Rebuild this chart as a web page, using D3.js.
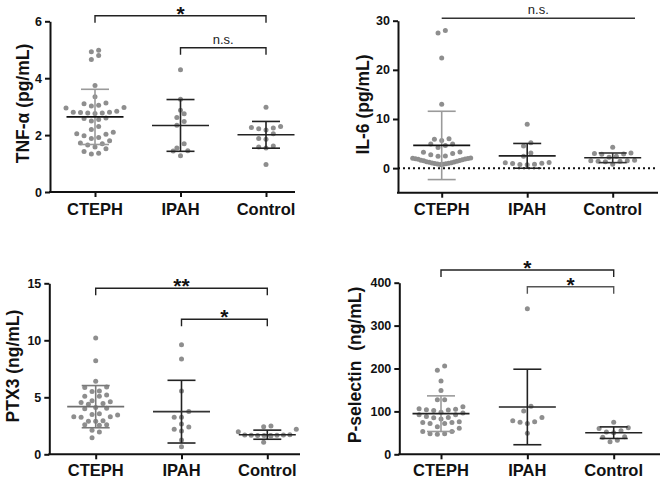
<!DOCTYPE html>
<html><head><meta charset="utf-8">
<script src="https://cdn.jsdelivr.net/npm/d3@7/dist/d3.min.js"></script>
<style>
html,body{margin:0;padding:0;background:#fff;}
svg{display:block;font-family:"Liberation Sans",Arial,sans-serif;}
</style></head>
<body>
<svg id="chart" width="661" height="481"></svg>
<script>
// ---------------- DATA ----------------
const groups = ["CTEPH", "IPAH", "Control"];

// TNF-α (pg/mL)
const tnfCTEPH = [4.98,4.93,4.80,4.66,3.74,3.35,3.13,3.10,3.05,3.02,2.97,2.95,2.84,2.80,2.80,2.79,2.78,2.78,2.76,2.60,2.58,2.55,2.50,2.30,2.20,2.10,2.05,2.03,1.98,1.92,1.88,1.80,1.72,1.70,1.65,1.58,1.52,1.42,1.36,1.34];
const tnfIPAH = [4.30,3.26,2.87,2.75,2.62,2.48,2.35,1.70,1.55,1.45,1.44,1.27];
const tnfControl = [2.98,2.30,2.27,2.25,2.22,2.18,2.05,1.88,1.85,1.62,1.58,1.55,0.97];
const tnfMean = [2.64, 2.34, 2.01];
const tnfSD = [0.97, 0.91, 0.47];
const tnfTicks = [0, 2, 4, 6];

// IL-6 (pg/mL)
const il6CTEPH = [28.0,27.5,22.4,13.0,6.0,5.9,5.6,4.9,4.9,4.6,4.2,3.3,3.25,3.0,2.7,2.45,2.4,
  2.05,2.0,1.95,1.9,1.85,1.8,1.7,1.6,1.55,1.5,1.4,1.3,1.25,1.2,1.1,1.05,1.0,0.95,0.9,0.85,0.8,0.75];
const il6IPAH = [8.95,5.15,4.5,3.1,2.4,1.15,1.1,1.0,0.95,0.8,0.75,0.7];
const il6Control = [4.25,3.1,3.0,2.9,2.8,2.4,2.2,1.6,1.5,1.5,1.4,1.4,1.3,0.8];
const il6Mean = [4.62, 2.5, 2.1];
const il6SD = [6.95, 2.52, 0.98];
const il6Ticks = [0, 10, 20, 30];

// PTX3 (ng/mL)
const ptxCTEPH = [10.2,8.2,6.4,5.9,5.85,5.55,5.5,5.2,5.1,5.1,4.7,4.6,4.55,4.45,4.4,4.1,4.05,4.0,3.55,3.5,3.45,3.3,3.3,3.25,2.95,2.9,2.9,2.6,2.6,2.55,2.1,1.95,1.45];
const ptxIPAH = [9.6,8.35,5.55,3.75,3.25,3.25,2.65,2.4,2.2,2.05,1.25,0.67];
const ptxControl = [2.48,2.42,2.2,1.98,1.72,1.70,1.70,1.68,1.68,1.66,1.66,1.64,1.62,1.05];
const ptxMean = [4.18, 3.74, 1.72];
const ptxSD = [1.85, 2.75, 0.40];
const ptxTicks = [0, 5, 10, 15];

// P-selectin (ng/mL)
const pselCTEPH = [206,196,171,149,127,127,111,106,105,104,103,102,98,96,92,92,88,86,85,82,76,74,74,72,72,64,61,53,53,48,48,47];
const pselIPAH = [339,112,101,86,78,76,75,72,49];
const pselControl = [75,62,60,55,52,50,41,40,33,29];
const pselMean = [94.7, 110.3, 50.4];
const pselSD = [41.5, 88, 13.5];
const pselTicks = [0, 100, 200, 300, 400];

// significance annotations: [fromGroup, toGroup, label]
const tnfSig = [[0, 2, "*"], [1, 2, "n.s."]];
const il6Sig = [[0, 2, "n.s."]];
const ptxSig = [[0, 2, "**"], [1, 2, "*"]];
const pselSig = [[0, 2, "*"], [1, 2, "*"]];

// ---------------- LAYOUT / STYLE ----------------
const panels = [
  {title:"TNF-\u03b1 (pg/mL)", vals:[tnfCTEPH,tnfIPAH,tnfControl], mean:tnfMean, sd:tnfSD, ticks:tnfTicks,
   domain:[0,6], yr:[192,21.3], ax:50, axEnd:295, cx:[95,266], titleX:23, titleY:103.5, labY:215,
   sig:tnfSig, brY:[15.7,47.7], drop:[7,7], brCol:["#222","#222"], zeroLine:false,
   meanCol:["#111","#222","#222"], errCol:["#9a9a9a","#222","#222"]},
  {title:"IL-6 (pg/mL)", vals:[il6CTEPH,il6IPAH,il6Control], mean:il6Mean, sd:il6SD, ticks:il6Ticks,
   domain:[-5,30], yr:[192.7,20.7], ax:398, axEnd:658, cx:[441.7,612.7], titleX:363, titleY:104.5, labY:215,
   sig:il6Sig, brY:[18.3], drop:[0], brEnd:[635], brCol:["#333"], zeroLine:true,
   meanCol:["#111","#222","#222"], errCol:["#9a9a9a","#222","#333"]},
  {title:"PTX3 (ng/mL)", vals:[ptxCTEPH,ptxIPAH,ptxControl], mean:ptxMean, sd:ptxSD, ticks:ptxTicks,
   domain:[0,15], yr:[454.3,283.3], ax:49.3, axEnd:300, cx:[95.7,267.3], titleX:13, titleY:366, labY:476,
   sig:ptxSig, brY:[288.3,319.3], drop:[7,7], brCol:["#222","#222"], zeroLine:false,
   meanCol:["#707070","#333","#222"], errCol:["#7a7a7a","#222","#222"]},
  {title:"P-selectin\u00a0\u00a0(ng/mL)", vals:[pselCTEPH,pselIPAH,pselControl], mean:pselMean, sd:pselSD, ticks:pselTicks,
   domain:[0,400], yr:[454.3,282.7], ax:399.3, axEnd:660, cx:[441,613.7], titleX:355, titleY:365, labY:476,
   sig:pselSig, brY:[270,286.7], drop:[7,7], brCol:["#222","#555"], zeroLine:false,
   meanCol:["#222","#222","#222"], errCol:["#9a9a9a","#222","#222"]}
];

const svg = d3.select("#chart");
const dotColor = "#8e8e8e";
const R = 2.5;

function swarm(vals, y, cx, binH, step, maxHalf) {
  const pts = vals.map(v => ({v, y: y(v)})).sort((a, b) => a.v - b.v);
  const out = [];
  let i = 0;
  while (i < pts.length) {
    const y0 = pts[i].y, bin = [];
    while (i < pts.length && y0 - pts[i].y < binH) { bin.push(pts[i]); i++; }
    const n = bin.length;
    const s = n > 1 ? Math.min(step, 2 * maxHalf / (n - 1)) : 0;
    const slots = [];
    for (let k = 0; k < n; k++) slots.push((k - (n - 1) / 2) * s);
    slots.sort((a, b) => Math.abs(a) - Math.abs(b) || a - b);
    bin.forEach((p, k) => out.push({v: p.v, y: p.y, x: cx + slots[k]}));
  }
  return out;
}

panels.forEach(p => {
  const g = svg.append("g");
  const y = d3.scaleLinear().domain(p.domain).range(p.yr);
  const x = d3.scalePoint().domain(groups).range(p.cx);

  // zero dotted line
  if (p.zeroLine) {
    g.append("line").attr("x1", p.ax).attr("x2", p.axEnd).attr("y1", y(0)).attr("y2", y(0))
      .attr("stroke", "#111").attr("stroke-width", 2).attr("stroke-dasharray", "2,3");
  }

  // dots
  groups.forEach((grp, gi) => {
    const pts = swarm(p.vals[gi], y, x(grp), 6.5, 7.3, 29);
    g.selectAll(null).data(pts).enter().append("circle")
      .attr("cx", d => d.x).attr("cy", d => d.y).attr("r", R).attr("fill", dotColor);
  });

  // mean ± SD
  groups.forEach((grp, gi) => {
    const cx = x(grp), m = p.mean[gi], s = p.sd[gi];
    const ec = p.errCol[gi];
    g.append("line").attr("x1", cx).attr("x2", cx).attr("y1", y(m + s)).attr("y2", y(m - s))
      .attr("stroke", ec).attr("stroke-width", 1.6);
    [m + s, m - s].forEach(v => {
      g.append("line").attr("x1", cx - 14).attr("x2", cx + 14).attr("y1", y(v)).attr("y2", y(v))
        .attr("stroke", ec).attr("stroke-width", 1.6);
    });
    g.append("line").attr("x1", cx - 28.5).attr("x2", cx + 28.5).attr("y1", y(m)).attr("y2", y(m))
      .attr("stroke", p.meanCol[gi]).attr("stroke-width", 1.6);
  });

  // y axis
  const yAxis = d3.axisLeft(y).tickValues(p.ticks).tickFormat(d3.format("d"))
    .tickSize(5).tickSizeOuter(0).tickPadding(3);
  const ya = g.append("g").attr("transform", `translate(${p.ax},0)`).call(yAxis);
  ya.select(".domain").attr("stroke", "#111").attr("stroke-width", 2);
  ya.selectAll(".tick line").attr("stroke", "#111").attr("stroke-width", 2);
  ya.selectAll(".tick text").attr("font-size", 12.5).attr("font-weight", "bold").attr("fill", "#111")
    .attr("font-family", "'Liberation Sans',Arial,sans-serif");

  // x axis
  const xb = p.yr[0];
  g.append("line").attr("x1", p.ax - 1).attr("x2", p.axEnd).attr("y1", xb).attr("y2", xb)
    .attr("stroke", "#111").attr("stroke-width", 2);
  const xAxis = d3.axisBottom(x).tickSize(5).tickSizeOuter(0).tickFormat(() => "");
  const xa = g.append("g").attr("transform", `translate(0,${xb})`).call(xAxis);
  xa.select(".domain").remove();
  xa.selectAll(".tick line").attr("stroke", "#111").attr("stroke-width", 2);
  g.selectAll(null).data(groups).enter().append("text")
    .attr("x", d => x(d)).attr("y", p.labY).attr("text-anchor", "middle")
    .attr("font-size", 16.5).attr("font-weight", "bold").attr("fill", "#111").text(d => d);

  // y title
  g.append("text").attr("transform", `translate(${p.titleX},${p.titleY}) rotate(-90)`)
    .attr("text-anchor", "middle").attr("dominant-baseline", "central")
    .attr("font-size", 17.5).attr("font-weight", "bold").attr("fill", "#111").text(p.title);

  // significance brackets
  p.sig.forEach((s, si) => {
    const x1 = x(groups[s[0]]);
    const x2 = p.brEnd ? p.brEnd[si] : x(groups[s[1]]);
    const by = p.brY[si], dr = p.drop[si];
    g.append("path").attr("d", `M${x1},${by + dr}V${by}H${x2}V${by + dr}`)
      .attr("fill", "none").attr("stroke", p.brCol[si]).attr("stroke-width", 1.4);
    const mid = (x1 + x2) / 2;
    if (s[2] === "n.s.") {
      g.append("text").attr("x", mid).attr("y", by - 4).attr("text-anchor", "middle")
        .attr("font-size", 13).attr("fill", "#222").text(s[2]);
    } else {
      g.append("text").attr("x", mid).attr("y", by + 5).attr("text-anchor", "middle")
        .attr("font-size", 21).attr("font-weight", "bold").attr("fill", "#111").text(s[2]);
    }
  });
});
</script>
</body></html>
